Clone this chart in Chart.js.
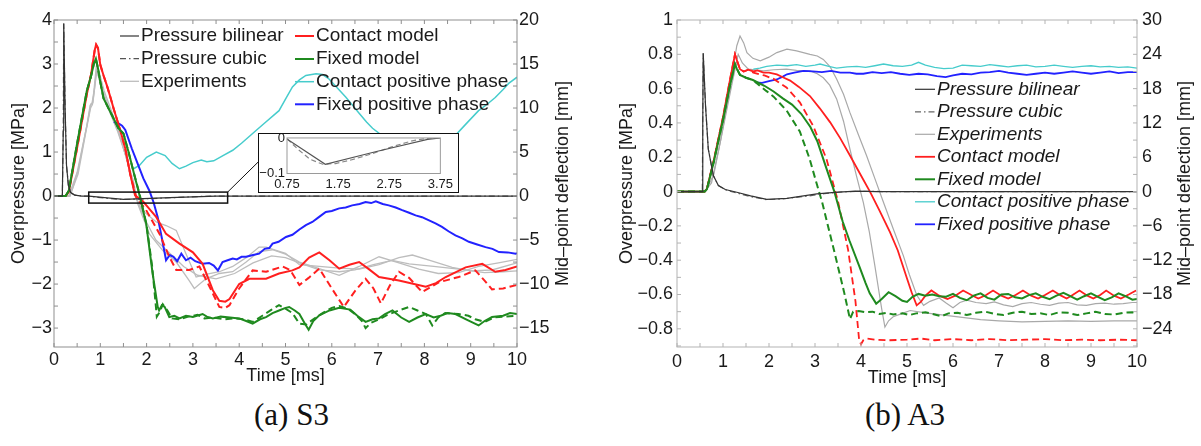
<!DOCTYPE html>
<html>
<head>
<meta charset="utf-8">
<script src="https://cdn.jsdelivr.net/npm/chart.js@4.4.0/dist/chart.umd.min.js"></script>
<style>
  body { margin: 0; background: #fff; width: 1201px; height: 446px; position: relative; overflow: hidden; }
  .panel { position: absolute; top: 0; height: 395px; }
  #s3Box { left: 0; width: 600px; }
  #a3Box { left: 600px; width: 601px; }
  #insetBox { position: absolute; left: 258px; top: 133px; width: 201px; height: 60px; box-sizing: border-box;
              border: 1.5px solid #111; background: #fff; }
  #insetInner { position: relative; width: 198px; height: 57px; }
  .caption { position: absolute; top: 397px; line-height: 36px; font-family: "Liberation Serif", "Times New Roman", serif;
             font-size: 31px; color: #111; }
</style>
</head>
<body>
<div id="s3Box" class="panel"><canvas id="s3Chart"></canvas></div>
<div id="insetBox"><div id="insetInner"><canvas id="insetChart"></canvas></div></div>
<div id="a3Box" class="panel"><canvas id="a3Chart"></canvas></div>
<div class="caption" style="left:254px">(a) S3</div>
<div class="caption" style="left:865px">(b) A3</div>

<script>
// ---- tick labels ----
const timeTicks = [0, 1, 2, 3, 4, 5, 6, 7, 8, 9, 10];
const s3PressureTicks = [-3, -2, -1, 0, 1, 2, 3, 4];
const s3DeflectionTicks = [-15, -10, -5, 0, 5, 10, 15, 20];
const a3PressureTicks = [-0.8, -0.6, -0.4, -0.2, 0, 0.2, 0.4, 0.6, 0.8, 1];
const a3DeflectionTicks = [-24, -18, -12, -6, 0, 6, 12, 18, 24, 30];
const insetTimeTicks = [0.75, 1.75, 2.75, 3.75];
const insetPressureTicks = [-0.1, 0];

// ---- (a) S3 : [time ms, value] ----
// pressure in MPa
const s3PressureBilinear = [[0,0],[0.18,0],[0.2,1.5],[0.21,3.92],[0.24,2.0],[0.27,0.7],[0.31,0.25],[0.36,0.08],[0.45,0.02],
  [0.6,0],[0.75,-0.003],[1.5,-0.074],[2.5,-0.038],[3.5,-0.004],[3.75,0],[10,0]];
const s3PressureCubic = [[0,0],[0.18,0],[0.2,1.5],[0.21,3.92],[0.24,2.0],[0.27,0.7],[0.31,0.25],[0.36,0.08],[0.45,0.02],
  [0.6,0],[0.75,-0.002],[0.95,-0.03],[1.2,-0.06],[1.45,-0.074],[1.7,-0.072],[2.0,-0.062],[2.4,-0.045],[2.8,-0.025],
  [3.2,-0.008],[3.5,-0.001],[3.75,0],[10,0]];
// deflection in mm
const s3ContactModel = [[0,0],[0.25,0],[0.32,0.5],[0.5,5.5],[0.71,11.6],[0.8,13.8],[0.88,16.6],[0.91,17.2],[0.95,16.8],
  [1.0,14.9],[1.07,13.7],[1.14,12.6],[1.22,11.2],[1.29,9.9],[1.43,7.5],[1.54,5.4],[1.65,2.4],[1.75,0.1],[1.92,-0.6],
  [2.05,-1.4],[2.21,-2.4],[2.42,-4.3],[2.71,-5.4],[3.0,-6.4],[3.21,-7.7],[3.43,-10.7],[3.57,-11.9],[3.7,-12.0],[3.79,-11.7],
  [4.0,-10.0],[4.22,-9.4],[4.58,-9.4],[4.86,-8.8],[5.15,-8.45],[5.3,-8.1],[5.51,-7.0],[5.73,-6.4],[5.95,-7.3],[6.16,-8.25],
  [6.38,-7.8],[6.59,-7.5],[6.8,-8.3],[7.02,-9.2],[7.45,-9.6],[8.03,-10.3],[8.25,-9.9],[8.46,-9.2],[8.89,-8.1],[9.25,-7.7],
  [9.53,-8.6],[9.75,-8.4],[10,-8.0]];
const s3ContactCubic = [[0,0],[0.25,0],[0.32,0.5],[0.5,5.5],[0.71,11.6],[0.8,13.8],[0.88,16.6],[0.91,17.2],[0.95,16.8],
  [1.0,14.9],[1.07,13.7],[1.14,12.6],[1.22,11.2],[1.29,9.9],[1.43,7.5],[1.54,5.4],[1.65,2.4],[1.78,-0.2],[1.99,-1.6],
  [2.28,-4.3],[2.49,-6.9],[2.64,-8.4],[2.92,-8.4],[3.14,-8.0],[3.36,-10.3],[3.57,-12.6],[3.7,-12.7],[3.79,-12.4],[4.0,-10.5],
  [4.29,-8.45],[4.58,-8.6],[4.94,-8.0],[5.1,-8.4],[5.3,-10.1],[5.5,-9.3],[5.73,-8.25],[6.0,-10.5],[6.26,-12.6],[6.5,-10.8],
  [6.73,-9.4],[6.9,-10.5],[7.06,-12.2],[7.25,-10.2],[7.45,-8.6],[7.67,-9.3],[7.95,-10.9],[8.31,-9.8],[8.74,-9.2],[9.1,-8.45],
  [9.3,-9.6],[9.46,-10.6],[9.7,-10.5],[10,-10.1]];
const s3FixedModel = [[0,0],[0.25,0],[0.32,0.6],[0.5,6.0],[0.71,12.0],[0.8,13.6],[0.86,15.0],[0.905,15.6],[0.95,14.5],
  [1.0,12.95],[1.07,11.1],[1.25,9.2],[1.39,7.7],[1.5,7.1],[1.61,5.0],[1.72,2.7],[1.83,0.45],[1.99,-3.1],[2.13,-8.8],
  [2.24,-12.6],[2.27,-13.0],[2.33,-12.4],[2.39,-12.6],[2.49,-13.75],[2.6,-13.6],[2.71,-13.9],[2.85,-13.6],[3.0,-13.75],
  [3.21,-13.4],[3.3,-13.7],[3.43,-13.9],[3.6,-13.7],[3.8,-13.8],[4.0,-13.9],[4.15,-14.2],[4.29,-14.5],[4.45,-14.0],
  [4.58,-13.75],[4.72,-13.3],[4.86,-13.0],[5.0,-12.7],[5.08,-12.6],[5.2,-13.0],[5.3,-13.4],[5.42,-14.5],[5.5,-15.2],
  [5.6,-14.2],[5.73,-13.55],[5.95,-13.0],[6.16,-12.7],[6.4,-12.9],[6.55,-13.6],[6.73,-14.3],[6.88,-14.0],[7.02,-13.9],
  [7.15,-13.4],[7.31,-13.0],[7.5,-13.8],[7.67,-14.3],[7.85,-13.8],[8.03,-13.4],[8.2,-13.8],[8.35,-13.6],[8.5,-13.3],
  [8.67,-13.4],[8.9,-14.0],[9.17,-14.7],[9.3,-14.2],[9.46,-13.75],[9.7,-13.6],[9.85,-13.3],[10,-13.4]];
const s3FixedCubic = [[0,0],[0.25,0],[0.32,0.6],[0.5,6.0],[0.71,12.0],[0.8,13.6],[0.86,15.0],[0.905,15.6],[0.95,14.5],
  [1.0,12.95],[1.07,11.1],[1.25,9.2],[1.39,7.7],[1.5,7.1],[1.61,5.0],[1.72,2.7],[1.85,0.2],[2.0,-3.3],[2.12,-8.0],[2.2,-12.5],
  [2.22,-13.7],[2.28,-13.2],[2.35,-12.3],[2.45,-13.0],[2.55,-13.9],[2.7,-14.0],[2.9,-13.7],[3.1,-13.5],[3.25,-13.9],
  [3.45,-13.8],[3.7,-14.0],[3.9,-13.9],[4.1,-14.0],[4.3,-14.3],[4.5,-13.6],[4.7,-12.9],[4.86,-12.4],[5.0,-12.8],[5.15,-13.3],
  [5.3,-14.5],[5.45,-14.6],[5.6,-14.0],[5.8,-13.3],[6.0,-12.7],[6.16,-12.5],[6.35,-12.8],[6.5,-13.4],[6.65,-14.2],[6.73,-15.0],
  [6.85,-14.4],[7.02,-14.0],[7.2,-13.5],[7.45,-13.0],[7.67,-12.6],[7.85,-13.0],[8.03,-13.4],[8.17,-14.7],[8.3,-13.8],
  [8.45,-13.3],[8.74,-13.4],[8.95,-13.6],[9.1,-14.0],[9.3,-14.3],[9.5,-13.8],[9.7,-13.7],[10,-13.6]];
const s3ContactPositive = [[1.72,3.1],[1.85,3.5],[2.0,4.4],[2.21,5.0],[2.4,4.6],[2.55,3.7],[2.71,3.1],[2.85,3.4],[3.0,3.8],
  [3.18,4.1],[3.3,3.9],[3.45,4.0],[3.65,4.6],[3.86,5.2],[4.05,6.0],[4.29,7.1],[4.55,8.3],[4.86,9.7],[5.0,11.0],[5.15,12.4],
  [5.3,13.2],[5.44,13.7],[5.66,13.9],[5.8,13.8],[5.94,13.3],[6.1,12.4],[6.3,11.25],[6.45,10.3],[6.59,9.4],[6.75,8.4],
  [6.88,7.7],[7.1,6.8],[7.4,6.0],[7.7,5.6],[8.0,5.6],[8.3,6.0],[8.5,6.4],[8.67,6.9],[8.9,8.2],[9.17,9.7],[9.35,10.4],
  [9.53,11.2],[9.7,12.1],[9.82,12.8],[10,13.5]];
const s3FixedPositive = [[1.29,8.4],[1.38,8.3],[1.47,8.0],[1.54,7.5],[1.68,5.4],[1.79,3.9],[1.93,2.0],[2.06,0.6],[2.15,-0.7],
  [2.24,-2.4],[2.33,-4.8],[2.42,-7.3],[2.5,-6.7],[2.58,-6.9],[2.66,-7.4],[2.75,-6.55],[2.85,-7.3],[2.95,-7.0],[3.05,-7.4],
  [3.21,-7.7],[3.35,-7.6],[3.45,-7.9],[3.54,-8.45],[3.64,-7.5],[3.75,-7.3],[3.86,-7.1],[3.95,-7.2],[4.05,-6.9],[4.15,-6.9],
  [4.3,-6.7],[4.43,-6.55],[4.55,-6.0],[4.65,-5.9],[4.72,-5.4],[4.85,-5.2],[5.01,-4.65],[5.15,-4.4],[5.3,-3.8],[5.44,-3.3],
  [5.58,-2.95],[5.72,-2.4],[5.87,-1.8],[6.0,-1.7],[6.16,-1.4],[6.3,-1.3],[6.44,-1.06],[6.6,-0.9],[6.73,-0.68],[6.85,-0.8],
  [6.95,-0.6],[7.1,-0.9],[7.23,-1.06],[7.38,-1.3],[7.52,-1.6],[7.67,-1.9],[7.81,-2.2],[7.95,-2.4],[8.1,-2.76],[8.24,-3.1],
  [8.38,-3.5],[8.52,-4.0],[8.67,-4.47],[8.82,-4.8],[8.96,-5.2],[9.14,-5.5],[9.32,-5.8],[9.47,-6.0],[9.61,-6.36],[9.8,-6.4],
  [9.97,-6.55],[10,-6.5]];
const s3Experiment1 = [[0,0],[0.32,0],[0.5,2.7],[0.71,8.0],[0.78,10.3],[0.82,10.5],[0.86,11.8],[0.91,14.5],[0.95,14.0],
  [1.07,11.8],[1.22,9.5],[1.39,7.3],[1.57,4.25],[1.72,1.6],[1.81,-0.9],[2.06,-4.3],[2.35,-6.2],[2.64,-7.5],[2.92,-9.6],
  [3.03,-10.5],[3.28,-9.4],[3.57,-8.8],[3.86,-8.6],[4.15,-7.5],[4.43,-6.3],[4.72,-6.1],[5.0,-6.6],[5.3,-7.5],[5.73,-8.25],
  [6.16,-9.0],[6.59,-8.0],[7.02,-6.9],[7.45,-7.6],[7.88,-8.3],[8.3,-8.8],[8.74,-8.7],[9.17,-8.0],[9.6,-7.6],[10,-7.2]];
const s3Experiment2 = [[0,0],[0.35,0],[0.52,2.9],[0.72,8.3],[0.8,10.5],[0.84,10.6],[0.88,12.4],[0.93,15.0],[0.97,14.2],
  [1.08,12.0],[1.24,9.7],[1.41,7.1],[1.6,3.6],[1.75,0],[1.9,-1.6],[2.21,-2.95],[2.42,-3.35],[2.64,-3.9],[2.85,-6.55],
  [3.07,-9.2],[3.28,-8.9],[3.57,-8.6],[3.86,-8.0],[4.15,-7.0],[4.43,-5.8],[4.58,-5.8],[5.0,-6.5],[5.3,-7.8],[5.73,-8.0],
  [6.16,-8.2],[6.59,-8.3],[7.02,-7.8],[7.45,-7.0],[7.74,-6.7],[8.17,-7.4],[8.6,-8.1],[9.0,-8.5],[9.46,-8.4],[10,-7.6]];
const s3Experiment3 = [[0,0],[0.34,0],[0.52,2.5],[0.7,7.6],[0.79,10.0],[0.83,10.4],[0.87,12.0],[0.92,14.0],[0.96,13.6],
  [1.06,11.5],[1.2,9.6],[1.37,7.4],[1.55,4.6],[1.75,0.2],[1.95,-2.5],[2.2,-5.0],[2.5,-6.5],[2.8,-8.0],[3.1,-9.0],[3.5,-9.4],
  [3.9,-8.8],[4.3,-7.6],[4.7,-6.8],[5.0,-7.0],[5.3,-7.6],[5.73,-8.4],[6.16,-8.6],[6.5,-8.4],[6.9,-7.8],[7.3,-7.3],
  [7.67,-7.7],[8.2,-8.0],[8.74,-8.3],[9.3,-8.7],[9.7,-8.6],[10,-8.5]];

// ---- (b) A3 : [time ms, value] ----
const a3PressureBilinear = [[0,0],[0.55,0],[0.56,0.4],[0.57,0.806],[0.62,0.5],[0.68,0.248],[0.79,0.093],[0.9,0.035],
  [1.05,0.012],[1.3,-0.004],[1.6,-0.025],[1.95,-0.045],[2.39,-0.04],[3.04,-0.013],[3.5,-0.003],[3.91,0.002],[4.34,0],[10,0]];
const a3PressureCubic = [[0,0],[0.55,0],[0.56,0.4],[0.57,0.806],[0.62,0.5],[0.68,0.248],[0.79,0.093],[0.9,0.035],
  [1.05,0.01],[1.3,-0.008],[1.6,-0.03],[1.95,-0.047],[2.3,-0.043],[2.8,-0.028],[3.2,-0.012],[3.6,-0.002],[4.0,0.002],
  [4.5,0],[10,0]];
const a3ContactModel = [[0,0],[0.6,0],[0.65,0.5],[0.8,5.5],[1.0,13],[1.15,19.5],[1.26,24.0],[1.3,23.0],[1.37,21.4],
  [1.45,21.0],[1.55,21.3],[1.66,21.0],[1.75,21.2],[1.88,20.8],[2.0,20.8],[2.17,20.5],[2.3,20.0],[2.46,19.4],[2.65,18.3],
  [2.89,16.7],[3.1,14.6],[3.33,12.1],[3.55,9.3],[3.76,6.3],[4.0,2.8],[4.2,-0.1],[4.4,-3.3],[4.63,-7.1],[4.8,-10.3],
  [5.0,-15.2],[5.1,-17.6],[5.21,-19.9],[5.3,-19.3],[5.4,-18.2],[5.53,-17.3],[5.7,-18.2],[5.88,-18.8],[6.05,-18.2],
  [6.22,-17.3],[6.4,-18.1],[6.55,-18.7],[6.72,-18.1],[6.87,-17.3],[7.05,-18.2],[7.2,-18.7],[7.36,-18.1],[7.52,-17.3],
  [7.7,-18.2],[7.85,-18.7],[8.0,-18.1],[8.17,-17.3],[8.35,-18.2],[8.47,-18.7],[8.6,-18.1],[8.75,-17.3],[8.92,-18.2],
  [9.05,-18.7],[9.2,-18.1],[9.33,-17.3],[9.5,-18.2],[9.65,-18.7],[9.82,-18.0],[9.98,-17.3]];
const a3ContactCubic = [[0,0],[0.6,0],[0.65,0.5],[0.8,5.5],[1.0,13],[1.15,19.5],[1.26,24.0],[1.3,23.0],[1.37,21.4],
  [1.45,21.0],[1.55,21.3],[1.66,20.8],[1.9,20.3],[2.1,19.7],[2.38,18.2],[2.67,15.6],[2.96,11.5],[3.25,5.7],[3.5,-1.7],
  [3.72,-10.2],[3.88,-19.2],[3.96,-26.0],[4.0,-26.7],[4.05,-26.0],[4.12,-25.7],[4.3,-25.9],[4.6,-26.0],[5.0,-25.9],
  [5.3,-25.7],[5.6,-26.0],[6.0,-25.8],[6.4,-26.0],[6.8,-25.8],[7.2,-26.0],[7.6,-25.9],[8.0,-25.8],[8.4,-26.0],[8.8,-25.9],
  [9.2,-26.0],[9.6,-25.9],[10,-26.0]];
const a3FixedModel = [[0,0],[0.6,0],[0.65,0.4],[0.8,5.2],[1.0,12.5],[1.15,18.5],[1.26,22.3],[1.3,21.5],[1.37,20.4],
  [1.5,19.9],[1.65,19.5],[1.9,18.5],[2.1,17.5],[2.3,16.3],[2.5,15.2],[2.7,13.6],[2.9,11.3],[3.05,8.8],[3.25,4.0],[3.42,0],
  [3.6,-5.2],[3.75,-8.6],[3.97,-13.2],[4.1,-16.0],[4.19,-17.8],[4.33,-19.6],[4.45,-18.8],[4.6,-17.6],[4.75,-18.3],
  [4.9,-19.1],[5.0,-19.3],[5.12,-18.4],[5.25,-17.9],[5.4,-18.2],[5.55,-18.0],[5.7,-18.3],[5.85,-18.4],[6.0,-17.9],
  [6.15,-18.6],[6.3,-19.0],[6.45,-18.2],[6.6,-17.8],[6.75,-18.6],[6.9,-18.9],[7.05,-18.0],[7.2,-17.9],[7.35,-18.5],
  [7.5,-18.7],[7.65,-18.1],[7.8,-17.8],[7.95,-18.4],[8.1,-18.8],[8.25,-18.2],[8.4,-17.7],[8.55,-18.3],[8.7,-18.9],
  [8.85,-18.3],[9.0,-17.8],[9.15,-18.4],[9.3,-19.0],[9.45,-18.5],[9.6,-17.8],[9.75,-18.3],[9.9,-18.9],[10,-18.8]];
const a3FixedCubic = [[0,0],[0.6,0],[0.65,0.4],[0.8,5.2],[1.0,12.5],[1.15,18.5],[1.26,22.3],[1.3,21.5],[1.37,20.4],
  [1.5,19.9],[1.65,19.5],[1.94,17.6],[2.1,16.6],[2.38,14.2],[2.67,10.5],[2.88,5.8],[3.05,1.0],[3.15,-1.7],[3.42,-10.5],
  [3.63,-17.5],[3.76,-22.3],[3.83,-21.0],[3.95,-20.9],[4.1,-21.1],[4.25,-21.0],[4.4,-21.4],[4.55,-21.2],[4.7,-21.5],
  [4.9,-21.3],[5.05,-21.6],[5.2,-21.3],[5.4,-21.1],[5.6,-21.5],[5.75,-21.8],[5.9,-21.3],[6.1,-21.2],[6.3,-21.6],
  [6.5,-21.2],[6.7,-21.0],[6.9,-21.4],[7.1,-21.6],[7.3,-21.2],[7.5,-21.0],[7.7,-21.4],[7.9,-21.3],[8.1,-21.6],[8.3,-21.1],
  [8.5,-21.2],[8.7,-21.6],[8.9,-21.3],[9.1,-21.0],[9.3,-21.4],[9.5,-21.5],[9.7,-21.2],[9.9,-21.1],[10,-21.3]];
const a3ContactPositive = [[1.66,21.4],[1.8,21.6],[1.95,21.9],[2.17,22.1],[2.4,22.0],[2.6,22.2],[2.8,21.9],[3.0,22.1],
  [3.11,22.3],[3.3,21.9],[3.47,21.6],[3.7,21.8],[3.91,21.9],[4.1,21.7],[4.3,22.0],[4.49,22.3],[4.7,22.0],[4.9,21.9],
  [5.1,22.1],[5.25,22.6],[5.4,22.1],[5.6,21.7],[5.8,21.5],[6.0,21.6],[6.2,22.1],[6.4,22.0],[6.6,21.9],[6.8,22.2],
  [7.0,22.0],[7.2,21.8],[7.4,22.0],[7.6,22.1],[7.8,21.8],[8.0,21.9],[8.2,22.1],[8.4,21.9],[8.6,21.7],[8.8,21.9],
  [9.0,22.0],[9.2,21.8],[9.4,21.9],[9.6,21.7],[9.8,21.8],[10,21.6]];
const a3FixedPositive = [[1.7,19.1],[1.85,19.0],[2.0,19.3],[2.17,19.6],[2.3,20.1],[2.39,20.5],[2.55,20.8],[2.75,21.1],
  [2.95,21.0],[3.15,20.9],[3.35,21.1],[3.55,20.8],[3.76,20.8],[3.9,20.6],[4.05,20.6],[4.25,20.9],[4.45,20.7],[4.65,20.9],
  [4.85,20.6],[5.05,20.4],[5.25,20.6],[5.45,20.5],[5.65,20.2],[5.84,20.0],[6.0,20.3],[6.2,20.6],[6.4,20.5],[6.6,20.8],
  [6.8,20.9],[7.0,21.1],[7.2,20.8],[7.4,20.6],[7.6,20.4],[7.8,20.6],[8.0,20.8],[8.2,20.6],[8.4,20.8],[8.6,21.0],
  [8.8,20.8],[9.0,20.6],[9.2,20.8],[9.4,21.0],[9.6,20.7],[9.8,20.9],[10,20.9]];
const a3Experiment1 = [[0,0],[0.6,0],[0.75,1.5],[0.95,9],[1.15,18],[1.3,25.5],[1.37,27.2],[1.45,26.0],[1.52,24.3],
  [1.65,23.3],[1.81,22.85],[2.0,23.5],[2.17,24.3],[2.39,24.9],[2.6,24.6],[2.89,24.0],[3.05,23.7],[3.18,23.1],[3.33,21.8],
  [3.47,19.7],[3.62,17.0],[3.76,13.8],[3.95,9.8],[4.12,6.3],[4.3,2.3],[4.49,-1.9],[4.7,-6.5],[4.92,-11.2],[5.05,-14.5],
  [5.21,-18.1],[5.36,-19.9],[5.5,-19.2],[5.7,-18.6],[5.85,-19.5],[6.0,-20.3],[6.15,-19.4],[6.3,-19.0],[6.5,-19.4],
  [6.72,-19.6],[6.9,-19.3],[7.1,-19.8],[7.3,-20.1],[7.5,-19.6],[7.7,-19.4],[7.9,-19.7],[8.1,-19.9],[8.3,-19.5],
  [8.5,-19.4],[8.7,-19.8],[8.9,-19.9],[9.1,-19.6],[9.3,-19.5],[9.5,-19.7],[9.7,-19.6],[9.9,-19.4],[10,-19.4]];
const a3Experiment2 = [[0,0],[0.62,0],[0.8,3],[1.0,11],[1.2,19],[1.33,24.0],[1.42,22.5],[1.55,21.4],[1.88,21.1],
  [2.1,21.3],[2.38,21.4],[2.6,21.2],[2.89,21.1],[3.05,20.6],[3.18,19.9],[3.32,18.6],[3.47,16.2],[3.62,12.3],[3.76,7.4],
  [3.9,2.8],[4.05,-1.9],[4.18,-7.0],[4.3,-12.9],[4.4,-18.0],[4.45,-20.5],[4.52,-23.7],[4.6,-22.6],[4.7,-21.9],[4.9,-21.3],
  [5.07,-20.8],[5.4,-21.2],[5.8,-21.6],[6.2,-22.0],[6.6,-22.4],[7.0,-22.6],[7.5,-22.8],[8.0,-22.7],[8.5,-22.6],
  [9.0,-22.7],[9.5,-22.6],[10,-22.6]];

// ---- styling ----
const ink = '#1a1a1a';
const RED = '#ff1f1f', GREEN = '#1f8a1f', BLUE = '#2222ff', CYAN = '#46cccc';
const sans = '"Liberation Sans", Arial, sans-serif';

const pts = arr => arr.map(([x, y]) => ({ x, y }));
function line(label, data, axis, color, width, dash) {
  return { label, data: pts(data), yAxisID: axis, borderColor: color, borderWidth: width,
    borderDash: dash || [], pointRadius: 0, fill: false, tension: 0 };
}
const fmtTick = v => (v < 0 ? '\u2212' + Math.abs(v) : String(v));

// frame with inward ticks, MATLAB style
const frameTicks = {
  id: 'frameTicks',
  afterDatasetsDraw(chart, args, o) {
    const { ctx, chartArea: a, scales: { x, y } } = chart;
    ctx.save();
    ctx.strokeStyle = o.color;
    ctx.lineWidth = 1;
    ctx.strokeRect(a.left, a.top, a.right - a.left, a.bottom - a.top);
    ctx.beginPath();
    if (o.tickLen > 0) {
      for (let i = Math.ceil(x.min / o.xStep - 1e-9); i * o.xStep <= x.max + 1e-9; i++) {
        const px = x.getPixelForValue(i * o.xStep);
        ctx.moveTo(px, a.bottom); ctx.lineTo(px, a.bottom - o.tickLen);
        ctx.moveTo(px, a.top); ctx.lineTo(px, a.top + o.tickLen);
      }
      for (let i = Math.ceil(y.min / o.yStep - 1e-9); i * o.yStep <= y.max + 1e-9; i++) {
        const py = y.getPixelForValue(i * o.yStep);
        ctx.moveTo(a.left, py); ctx.lineTo(a.left + o.tickLen, py);
        ctx.moveTo(a.right, py); ctx.lineTo(a.right - o.tickLen, py);
      }
    }
    ctx.stroke();
    ctx.restore();
  }
};

// legend floating inside the plot
const floatLegend = {
  id: 'floatLegend',
  afterDraw(chart, args, o) {
    if (!o.items) return;
    const ctx = chart.ctx;
    ctx.save();
    ctx.font = o.font;
    ctx.fillStyle = ink;
    ctx.textBaseline = 'middle';
    o.items.forEach(it => {
      const ds = chart.data.datasets.find(d => d.label === it.label);
      ctx.strokeStyle = ds.borderColor;
      ctx.lineWidth = ds.borderWidth;
      ctx.setLineDash(ds.borderDash);
      ctx.beginPath();
      ctx.moveTo(it.x, it.y); ctx.lineTo(it.x + o.sample, it.y);
      ctx.stroke();
      ctx.setLineDash([]);
      ctx.fillText(it.label, it.x + o.sample + 2, it.y);
    });
    ctx.restore();
  }
};

// right axis title reading bottom-to-top
const rightTitle = {
  id: 'rightTitle',
  afterDraw(chart, args, o) {
    if (!o.text) return;
    const { ctx, chartArea: a } = chart;
    ctx.save();
    ctx.translate(o.x, (a.top + a.bottom) / 2);
    ctx.rotate(-Math.PI / 2);
    ctx.font = o.font;
    ctx.fillStyle = ink;
    ctx.textAlign = 'center';
    ctx.textBaseline = 'middle';
    ctx.fillText(o.text, 0, 0);
    ctx.restore();
  }
};

// zoom rectangle + connector to the inset
const zoomBox = {
  id: 'zoomBox',
  afterDatasetsDraw(chart, args, o) {
    const { ctx, scales: { x, y } } = chart;
    const x0 = x.getPixelForValue(o.t0), x1 = x.getPixelForValue(o.t1);
    const y0 = y.getPixelForValue(o.pTop), y1 = y.getPixelForValue(o.pBottom);
    ctx.save();
    ctx.strokeStyle = '#111';
    ctx.lineWidth = 1.5;
    ctx.strokeRect(x0, y0, x1 - x0, y1 - y0);
    ctx.lineWidth = 1;
    ctx.beginPath();
    ctx.moveTo(x1, y0); ctx.lineTo(o.toX, o.toY);
    ctx.stroke();
    ctx.restore();
  }
};

function panel(canvasId, cfg) {
  const tickFont = { family: sans, size: 18, lineHeight: 1 };
  const titleFont = { family: sans, size: 18 };
  return new Chart(document.getElementById(canvasId), {
    type: 'line',
    data: { datasets: cfg.datasets },
    options: {
      responsive: true, maintainAspectRatio: false, animation: false,
      layout: { padding: { top: 20, left: 0, right: 0, bottom: 0 } },
      plugins: {
        legend: { display: false }, tooltip: { enabled: false },
        frameTicks: { color: cfg.frame, xStep: 0.5, yStep: cfg.minorStep, tickLen: 4 },
        floatLegend: cfg.legend,
        rightTitle: { text: 'Mid\u2013point deflection [mm]', x: cfg.rightTitleX, font: '18px ' + sans },
        zoomBox: cfg.zoomBox || {}
      },
      scales: {
        x: {
          type: 'linear', min: 0, max: 10,
          afterBuildTicks: s => { s.ticks = timeTicks.map(v => ({ value: v })); },
          afterFit: s => { s.height = 48; },
          grid: { display: false, drawTicks: false }, border: { display: false },
          ticks: { font: tickFont, color: ink, padding: cfg.xPad, maxRotation: 0, autoSkip: false, callback: fmtTick },
          title: { display: true, text: 'Time [ms]', font: titleFont, color: ink, padding: { top: 0, bottom: cfg.xTitlePad } }
        },
        y: {
          position: 'left', min: cfg.pMin, max: cfg.pMax,
          afterBuildTicks: s => { s.ticks = cfg.pTicks.map(v => ({ value: v })); },
          afterFit: s => { s.width = cfg.leftW; },
          grid: { display: false, drawTicks: false }, border: { display: false },
          ticks: { font: tickFont, color: ink, padding: cfg.yPad, autoSkip: false, callback: fmtTick },
          title: { display: true, text: 'Overpressure [MPa]', font: titleFont, color: ink, padding: { top: cfg.yTitlePad, bottom: 0 } }
        },
        y2: {
          position: 'right', min: cfg.dMin, max: cfg.dMax,
          afterBuildTicks: s => { s.ticks = cfg.dTicks.map(v => ({ value: v })); },
          afterFit: s => { s.width = cfg.rightW; },
          grid: { display: false, drawTicks: false }, border: { display: false },
          ticks: { font: tickFont, color: ink, padding: cfg.y2Pad, autoSkip: false, callback: fmtTick }
        }
      }
    },
    plugins: cfg.plugins
  });
}

// ---- (a) S3 ----
const s3Exp = '#bdbdbd';
panel('s3Chart', {
  datasets: [
    line('Pressure bilinear', s3PressureBilinear, 'y', '#333', 1.2),
    line('Pressure cubic', s3PressureCubic, 'y', '#555', 1.2, [6, 3, 1.5, 3]),
    line('Fixed model', s3FixedModel, 'y2', GREEN, 2),
    line('Fixed cubic', s3FixedCubic, 'y2', GREEN, 2, [7, 4]),
    line('Contact model', s3ContactModel, 'y2', RED, 2),
    line('Contact cubic', s3ContactCubic, 'y2', RED, 2, [7, 4]),
    line('Fixed positive phase', s3FixedPositive, 'y2', BLUE, 2),
    line('Contact positive phase', s3ContactPositive, 'y2', CYAN, 1.5),
    line('Experiments', s3Experiment1, 'y2', s3Exp, 1.3),
    line('Experiments 2', s3Experiment2, 'y2', s3Exp, 1.3),
    line('Experiments 3', s3Experiment3, 'y2', s3Exp, 1.3)
  ],
  pMin: -3.43, pMax: 4, pTicks: s3PressureTicks,
  dMin: -17.15, dMax: 20, dTicks: s3DeflectionTicks,
  minorStep: 0.5, frame: '#8f8f8f',
  leftW: 54, rightW: 83, xPad: 4, yPad: 2, y2Pad: 2, xTitlePad: 8, yTitlePad: 8, rightTitleX: 563,
  legend: {
    font: '19px ' + sans, sample: 19,
    items: [
      { label: 'Pressure bilinear', x: 120, y: 36 },
      { label: 'Pressure cubic', x: 120, y: 58.7 },
      { label: 'Experiments', x: 120, y: 81.3 },
      { label: 'Contact model', x: 295, y: 36 },
      { label: 'Fixed model', x: 295, y: 59 },
      { label: 'Contact positive phase', x: 295, y: 81.7 },
      { label: 'Fixed positive phase', x: 295, y: 104.3 }
    ]
  },
  zoomBox: { t0: 0.75, t1: 3.75, pTop: 0.09, pBottom: -0.16, toX: 258.5, toY: 161.7 },
  plugins: [frameTicks, zoomBox, floatLegend, rightTitle]
});

// inset: negative pressure phase
new Chart(document.getElementById('insetChart'), {
  type: 'line',
  data: { datasets: [
    line('Pressure bilinear', s3PressureBilinear, 'y', '#555', 1.2),
    line('Pressure cubic', s3PressureCubic, 'y', '#888', 1.2, [5, 3])
  ] },
  options: {
    responsive: true, maintainAspectRatio: false, animation: false,
    layout: { padding: { top: 2.5, right: 15.8, left: 0, bottom: 0 } },
    plugins: { legend: { display: false }, tooltip: { enabled: false },
      frameTicks: { color: '#9a9a9a', xStep: 0.25, yStep: 0.05, tickLen: 0 } },
    scales: {
      x: {
        type: 'linear', min: 0.75, max: 3.75,
        afterBuildTicks: s => { s.ticks = insetTimeTicks.map(v => ({ value: v })); },
        afterFit: s => { s.height = 17.5; },
        grid: { display: false, drawTicks: false }, border: { display: false },
        ticks: { font: { family: sans, size: 13, lineHeight: 1 }, color: ink, padding: 4, maxRotation: 0, autoSkip: false, callback: fmtTick }
      },
      y: {
        min: -0.1, max: 0,
        afterBuildTicks: s => { s.ticks = insetPressureTicks.map(v => ({ value: v })); },
        afterFit: s => { s.width = 28; },
        grid: { display: false, drawTicks: false }, border: { display: false },
        ticks: { font: { family: sans, size: 13, lineHeight: 0.3 }, color: ink, padding: 2, autoSkip: false, callback: fmtTick }
      }
    }
  },
  plugins: [frameTicks]
});

// ---- (b) A3 ----
const a3Exp = '#a9a9a9';
panel('a3Chart', {
  datasets: [
    line('Pressure bilinear', a3PressureBilinear, 'y', '#333', 1.2),
    line('Pressure cubic', a3PressureCubic, 'y', '#666', 1.2, [6, 3, 1.5, 3]),
    line('Fixed model', a3FixedModel, 'y2', GREEN, 2),
    line('Fixed cubic', a3FixedCubic, 'y2', GREEN, 2, [7, 4]),
    line('Contact model', a3ContactModel, 'y2', RED, 1.8),
    line('Contact cubic', a3ContactCubic, 'y2', RED, 1.8, [7, 4]),
    line('Fixed positive phase', a3FixedPositive, 'y2', BLUE, 1.8),
    line('Contact positive phase', a3ContactPositive, 'y2', CYAN, 1.3),
    line('Experiments', a3Experiment1, 'y2', a3Exp, 1.2),
    line('Experiments 2', a3Experiment2, 'y2', a3Exp, 1.2)
  ],
  pMin: -0.906, pMax: 1, pTicks: a3PressureTicks,
  dMin: -27.18, dMax: 30, dTicks: a3DeflectionTicks,
  minorStep: 0.1, frame: '#b3b3b3',
  leftW: 77, rightW: 64, xPad: 6, yPad: 4, y2Pad: 5, xTitlePad: 6, yTitlePad: 16, rightTitleX: 585,
  legend: {
    font: 'italic 19px ' + sans, sample: 20,
    items: [
      'Pressure bilinear', 'Pressure cubic', 'Experiments', 'Contact model',
      'Fixed model', 'Contact positive phase', 'Fixed positive phase'
    ].map((label, i) => ({ label, x: 315, y: 89.3 + 22.5 * i }))
  },
  plugins: [frameTicks, floatLegend, rightTitle]
});
</script>
</body>
</html>
